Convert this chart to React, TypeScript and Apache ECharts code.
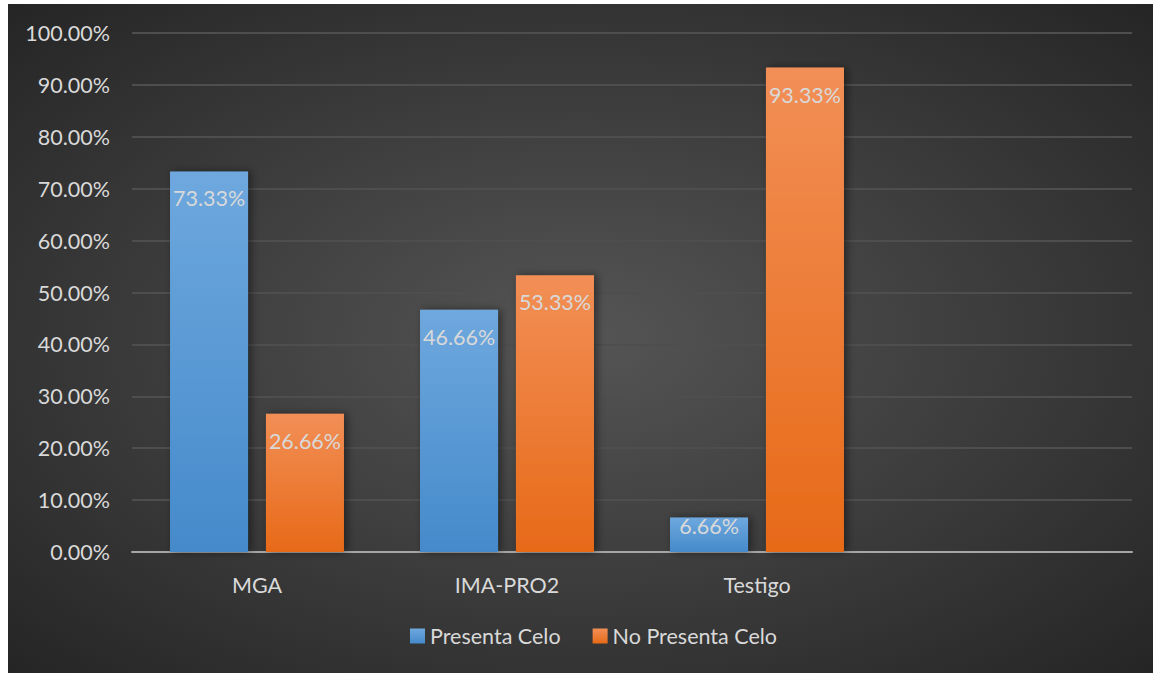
import React, { useEffect, useRef } from "react";
import * as echarts from "echarts";

const categories = ["MGA", "IMA-PRO2", "Testigo", ""];
const presentaCelo = [73.33, 46.66, 6.66, null];
const noPresentaCelo = [26.66, 53.33, 93.33, null];
const seriesNames = ["Presenta Celo", "No Presenta Celo"];

const FONT = "Lato, 'Open Sans', sans-serif";
const TXT = "#d9d9d9";
const FS = 21.5;

const withLabelFit = (arr: (number | null)[]) =>
  arr.map((v) =>
    v !== null && v < 10 ? { value: v, label: { distance: -2 } } : v
  );

export default function App() {
  const ref = useRef<HTMLDivElement>(null);
  useEffect(() => {
    if (!ref.current) return;
    const chart = echarts.init(ref.current, undefined, { renderer: "svg" });
    const label = {
      show: true,
      position: "insideTop",
      distance: 16,
      color: TXT,
      fontSize: FS,
      fontFamily: FONT,
      formatter: (p: any) => `${Number(p.value).toFixed(2)}%`,
    };
    chart.setOption({
      animation: false,
      backgroundColor: "#ffffff",
      graphic: [
        {
          type: "rect",
          z: -10,
          silent: true,
          shape: { x: 8, y: 4, width: 1145, height: 669 },
          style: {
            fill: {
              type: "radial",
              x: 0.5,
              y: 0.5,
              r: 0.75,
              colorStops: [
                { offset: 0, color: "#555555" },
                { offset: 1, color: "#222222" },
              ],
            },
          },
        },
      ],
      grid: { left: 132, right: 21, top: 33, bottom: 121, containLabel: false },
      legend: {
        bottom: 21,
        left: 405,
        itemWidth: 15,
        itemHeight: 15,
        itemGap: 32,
        icon: "rect",
        textStyle: { color: TXT, fontSize: FS, fontFamily: FONT },
        data: seriesNames,
      },
      xAxis: {
        type: "category",
        data: categories,
        axisLine: { lineStyle: { color: "#a6a6a6", width: 2 } },
        axisTick: { show: false },
        axisLabel: { color: TXT, fontSize: FS, fontFamily: FONT, margin: 22 },
      },
      yAxis: {
        type: "value",
        min: 0,
        max: 100,
        interval: 10,
        axisLine: { show: false },
        axisTick: { show: false },
        axisLabel: {
          color: TXT,
          fontSize: FS,
          fontFamily: FONT,
          margin: 22,
          formatter: (v: number) => `${v.toFixed(2)}%`,
        },
        splitLine: { lineStyle: { color: "#4e4e4e", width: 2 } },
      },
      series: [
        {
          name: seriesNames[0],
          type: "bar",
          data: withLabelFit(presentaCelo),
          barWidth: 78,
          barGap: "23%",
          label,
          itemStyle: {
            color: {
              type: "linear",
              x: 0, y: 0, x2: 0, y2: 1,
              colorStops: [
                { offset: 0, color: "#6ea8de" },
                { offset: 1, color: "#458acb" },
              ],
            },
            shadowBlur: 8,
            shadowColor: "rgba(0,0,0,0.45)",
            shadowOffsetX: 3,
          },
        },
        {
          name: seriesNames[1],
          type: "bar",
          data: withLabelFit(noPresentaCelo),
          barWidth: 78,
          label,
          itemStyle: {
            color: {
              type: "linear",
              x: 0, y: 0, x2: 0, y2: 1,
              colorStops: [
                { offset: 0, color: "#f28f56" },
                { offset: 1, color: "#e76a18" },
              ],
            },
            shadowBlur: 8,
            shadowColor: "rgba(0,0,0,0.45)",
            shadowOffsetX: 3,
          },
        },
      ],
    });
    return () => chart.dispose();
  }, []);
  return (
    <div
      ref={ref}
      style={{ position: "fixed", left: 0, top: 0, width: 1153, height: 673 }}
    />
  );
}
